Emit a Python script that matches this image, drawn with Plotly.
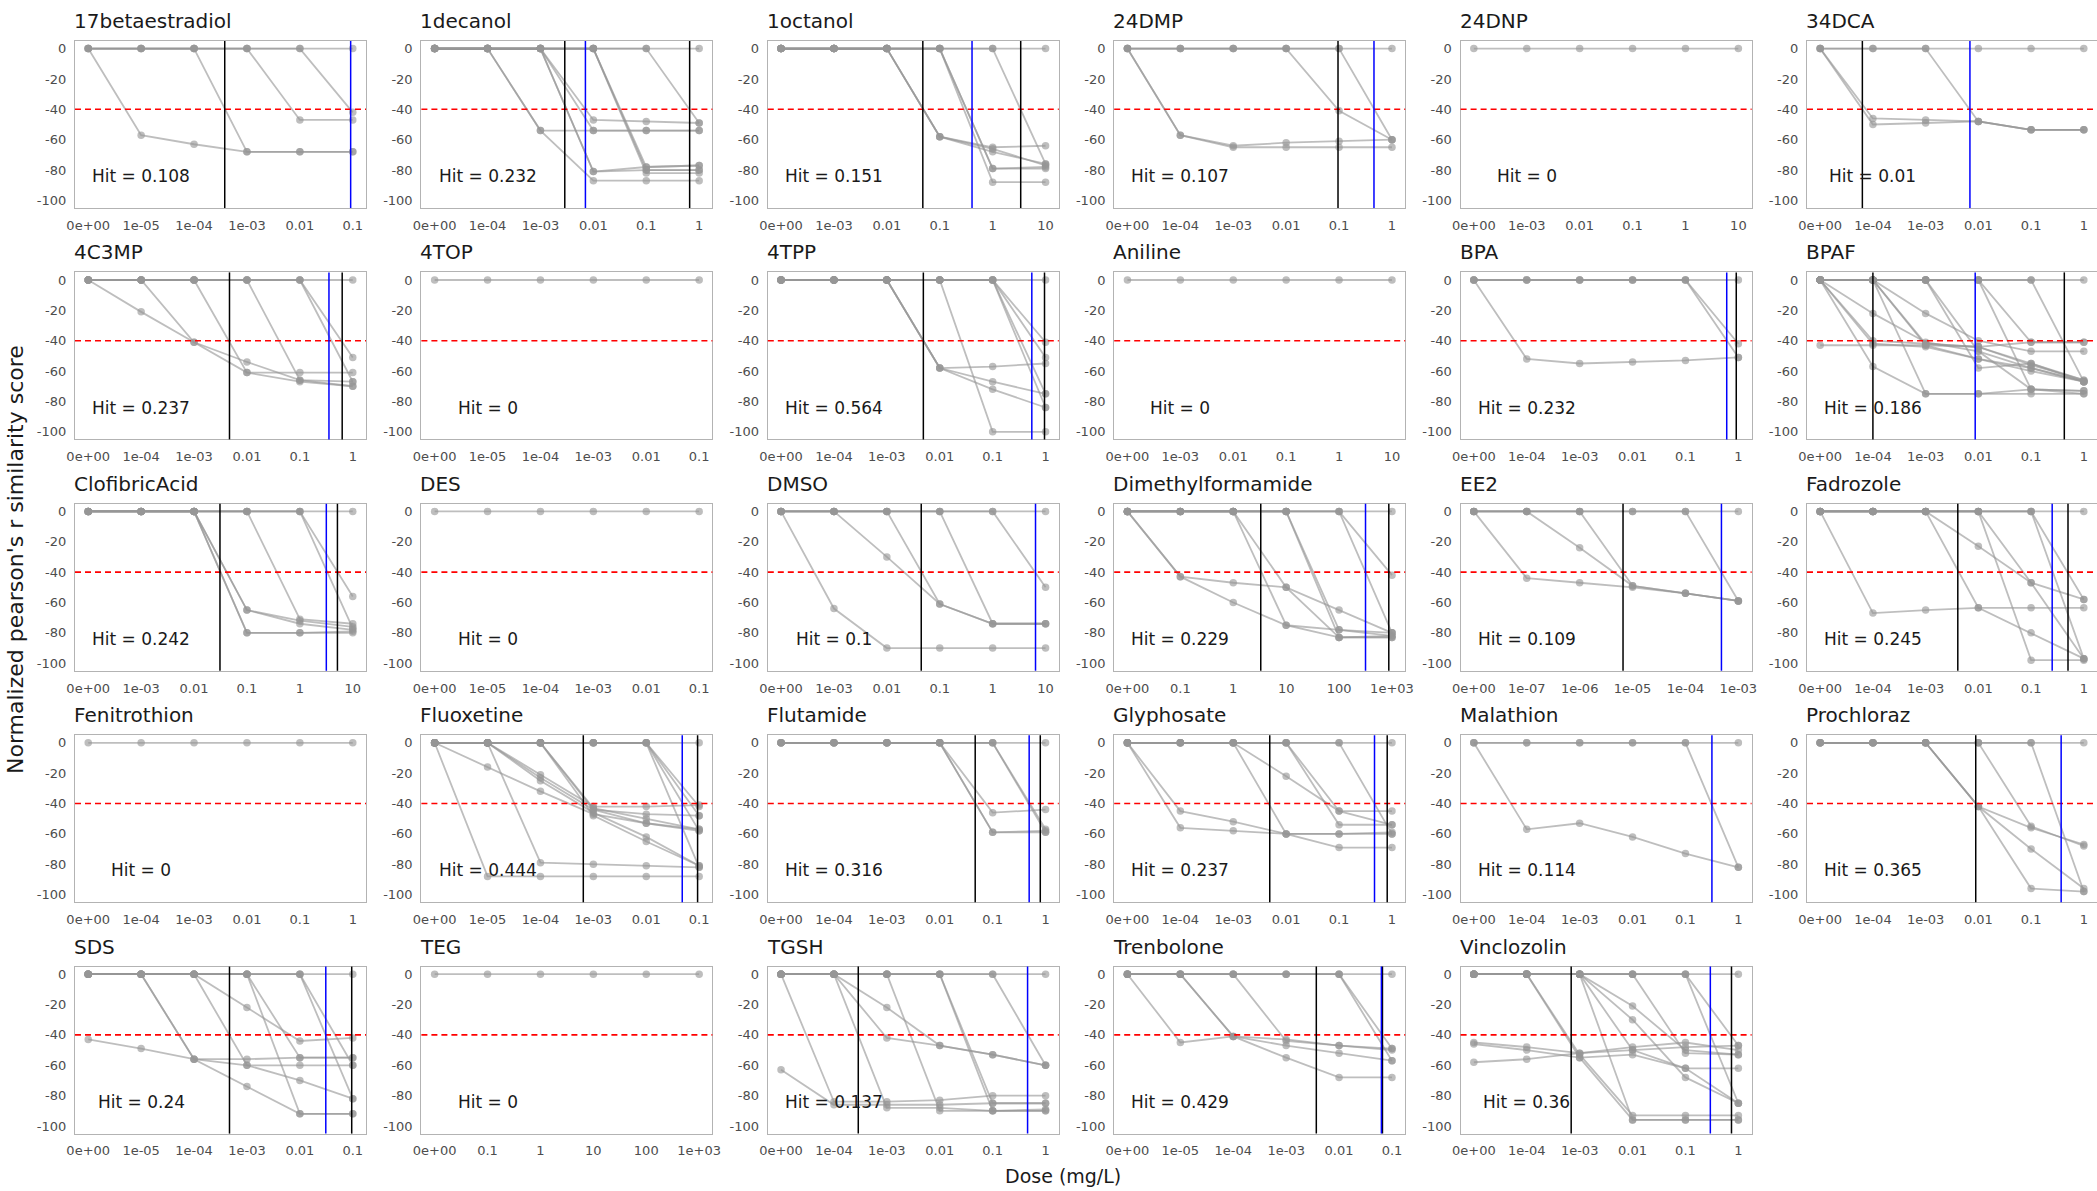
import plotly.graph_objects as go

# ---------------------------------------------------------------- data
chemicals = [
    "17betaestradiol", "1decanol", "1octanol", "24DMP", "24DNP", "34DCA",
    "4C3MP", "4TOP", "4TPP", "Aniline", "BPA", "BPAF",
    "ClofibricAcid", "DES", "DMSO", "Dimethylformamide", "EE2", "Fadrozole",
    "Fenitrothion", "Fluoxetine", "Flutamide", "Glyphosate", "Malathion", "Prochloraz",
    "SDS", "TEG", "TGSH", "Trenbolone", "Vinclozolin",
]

doses_e5 = ["0e+00", "1e-05", "1e-04", "1e-03", "0.01", "0.1"]
doses_e4 = ["0e+00", "1e-04", "1e-03", "0.01", "0.1", "1"]
doses_e3 = ["0e+00", "1e-03", "0.01", "0.1", "1", "10"]
doses_hi = ["0e+00", "0.1", "1", "10", "100", "1e+03"]
doses_e7 = ["0e+00", "1e-07", "1e-06", "1e-05", "1e-04", "1e-03"]

dose_labels = [
    doses_e5, doses_e4, doses_e3, doses_e4, doses_e3, doses_e4,
    doses_e4, doses_e5, doses_e4, doses_e3, doses_e4, doses_e4,
    doses_e3, doses_e5, doses_e3, doses_hi, doses_e7, doses_e4,
    doses_e4, doses_e5, doses_e4, doses_e4, doses_e4, doses_e4,
    doses_e5, doses_hi, doses_e4, doses_e5, doses_e4,
]

hit_values = [
    "0.108", "0.232", "0.151", "0.107", "0", "0.01",
    "0.237", "0", "0.564", "0", "0.232", "0.186",
    "0.242", "0", "0.1", "0.229", "0.109", "0.245",
    "0", "0.444", "0.316", "0.237", "0.114", "0.365",
    "0.24", "0", "0.137", "0.429", "0.36",
]

# dose-index positions of the reference lines (black) and the blue marker line
black_lines = [
    [2.58], [2.46, 4.82], [2.68, 4.53], [3.98], [], [0.80],
    [2.67, 4.80], [], [2.69, 4.98], [], [4.96], [1.0, 4.63],
    [2.49, 4.71], [], [2.65], [2.52, 4.94], [2.82], [2.61, 4.70],
    [], [2.81, 4.97], [3.67, 4.90], [2.69, 4.91], [], [2.95],
    [2.67, 4.98], [], [1.46], [3.57, 4.82], [1.84, 4.87],
]
blue_lines = [
    [4.96], [2.85], [3.61], [4.66], [], [2.84],
    [4.55], [], [4.74], [], [4.78], [2.94],
    [4.50], [], [4.81], [4.50], [4.68], [4.40],
    [], [4.68], [4.69], [4.67], [4.50], [4.57],
    [4.49], [], [4.66], [4.80], [4.47],
]

flat = [0, 0, 0, 0, 0, 0]

resp_17betaestradiol = [
    [0, -57, -63, -68, -68, -68],
    [0, 0, 0, -68, -68, -68],
    [0, 0, 0, 0, -47, -47],
    [0, 0, 0, 0, 0, -42],
    flat,
]
resp_1decanol = [
    [0, 0, -54, -54, -54, -54],
    [0, 0, -54, -87, -87, -87],
    [0, 0, 0, -47, -48, -49],
    [0, 0, 0, -54, -54, -54],
    [0, 0, 0, -81, -78, -77],
    [0, 0, 0, -81, -80, -80],
    [0, 0, 0, 0, -78, -77],
    [0, 0, 0, 0, -80, -80],
    [0, 0, 0, 0, -82, -82],
    [0, 0, 0, 0, 0, -49],
    flat,
]
resp_1octanol = [
    [0, 0, 0, -58, -65, -64],
    [0, 0, 0, -58, -68, -76],
    [0, 0, 0, -58, -66, -77],
    [0, 0, 0, 0, -79, -79],
    [0, 0, 0, 0, -88, -88],
    [0, 0, 0, 0, -79, -78],
    [0, 0, 0, 0, 0, -76],
    flat,
]
resp_24DMP = [
    [0, -57, -64, -62, -61, -60],
    [0, -57, -65, -65, -65, -65],
    [0, 0, 0, 0, -41, -60],
    [0, 0, 0, 0, 0, -60],
    flat,
]
resp_24DNP = [flat]
resp_34DCA = [
    [0, -46, -47, -48, -53.5, -53.5],
    [0, -50, -49, -48, -53.5, -53.5],
    [0, 0, 0, -48, -53.5, -53.5],
    flat,
]
resp_4C3MP = [
    [0, -21, -41, -54, -66, -70],
    [0, 0, -41, -61, -67, -70],
    [0, 0, 0, -61, -61, -61],
    [0, 0, 0, 0, -66, -67],
    [0, 0, 0, 0, 0, -51],
    [0, 0, 0, 0, 0, -67],
    flat,
]
resp_4TOP = [flat]
resp_4TPP = [
    [0, 0, 0, -58, -57, -55],
    [0, 0, 0, -58, -67, -75],
    [0, 0, 0, -58, -72, -84],
    [0, 0, 0, 0, -100, -100],
    [0, 0, 0, 0, 0, -41],
    [0, 0, 0, 0, 0, -51],
    [0, 0, 0, 0, 0, -75],
    [0, 0, 0, 0, 0, -84],
    flat,
]
resp_Aniline = [flat]
resp_BPA = [
    [0, -52, -55, -54, -53, -51],
    [0, 0, 0, 0, 0, -42],
    [0, 0, 0, 0, 0, -51],
    flat,
]
resp_BPAF = [
    [-43, -43, -43, -44, -41, -41],
    [0, -22, -41, -47, -58, -67],
    [0, -40, -42, -44, -55, -66],
    [0, -57, -75, -75, -75, -75],
    [0, 0, -22, -40, -47, -47],
    [0, 0, -75, -75, -72, -73],
    [0, 0, -43, -52, -58, -67],
    [0, 0, 0, -47, -72, -73],
    [0, 0, 0, -58, -55, -67],
    [0, 0, 0, 0, -72, -75],
    [0, 0, 0, 0, -41, -41],
    [0, 0, 0, 0, 0, -67],
    [0, 0, -42, -44, -56, -66],
    [0, -42, -44, -52, -60, -67],
    flat,
]
resp_ClofibricAcid = [
    [0, 0, 0, -65, -72, -76],
    [0, 0, 0, -65, -74, -78],
    [0, 0, 0, -80, -80, -80],
    [0, 0, 0, -80, -80, -79],
    [0, 0, 0, 0, -71, -74],
    [0, 0, 0, 0, 0, -56],
    [0, 0, 0, 0, 0, -77],
    flat,
]
resp_DES = [flat]
resp_DMSO = [
    [0, -64, -90, -90, -90, -90],
    [0, 0, -30, -61, -74, -74],
    [0, 0, 0, -61, -74, -74],
    [0, 0, 0, 0, -74, -74],
    [0, 0, 0, 0, 0, -50],
    flat,
]
resp_Dimethylformamide = [
    [0, -43, -47, -50, -65, -80],
    [0, -43, -60, -75, -78, -80],
    [0, 0, 0, -75, -83, -82],
    [0, 0, 0, -50, -83, -83],
    [0, 0, 0, 0, -78, -82],
    [0, 0, 0, 0, -83, -83],
    [0, 0, 0, 0, 0, -42],
    [0, 0, 0, 0, 0, -80],
    flat,
]
resp_EE2 = [
    [0, -44, -47, -50, -54, -59],
    [0, 0, -24, -49, -54, -59],
    [0, 0, 0, -49, -54, -59],
    [0, 0, 0, 0, 0, -59],
    flat,
]
resp_Fadrozole = [
    [0, -67, -65, -63.5, -63.5, -63.5],
    [0, 0, 0, -23, -47, -58],
    [0, 0, 0, -63.5, -80, -97],
    [0, 0, 0, 0, -98, -98],
    [0, 0, 0, 0, -47, -97],
    [0, 0, 0, 0, 0, -58],
    [0, 0, 0, 0, 0, -97],
    flat,
]
resp_Fenitrothion = [flat]
resp_Fluoxetine = [
    [0, -16, -32, -47, -53, -57],
    [0, 0, -21, -42, -42, -41],
    [0, 0, -23, -44, -47, -48],
    [0, 0, -25, -46, -62, -81],
    [0, 0, -79, -80, -81, -82],
    [0, -88, -88, -88, -88, -88],
    [0, 0, 0, -48, -65, -81],
    [0, 0, 0, -43, -50, -57],
    [0, 0, 0, -44, -53, -58],
    [0, 0, 0, 0, 0, -42],
    [0, 0, 0, 0, 0, -48],
    [0, 0, 0, 0, 0, -58],
    [0, 0, 0, 0, 0, -82],
    flat,
]
resp_Flutamide = [
    [0, 0, 0, 0, -46, -44],
    [0, 0, 0, 0, -59, -58],
    [0, 0, 0, 0, -59, -59],
    [0, 0, 0, 0, 0, -57],
    [0, 0, 0, 0, 0, -59],
    flat,
]
resp_Glyphosate = [
    [0, -45, -52, -60, -60, -60],
    [0, -56, -58, -60, -60, -59],
    [0, 0, 0, -22, -45, -54],
    [0, 0, 0, -60, -69, -69],
    [0, 0, 0, 0, -54, -54],
    [0, 0, 0, 0, -45, -45],
    [0, 0, 0, 0, 0, -60],
    flat,
]
resp_Malathion = [
    [0, -57, -53, -62, -73, -82],
    [0, 0, 0, 0, 0, -82],
    flat,
]
resp_Prochloraz = [
    [0, 0, 0, -42, -56, -67],
    [0, 0, 0, -42, -70, -96],
    [0, 0, 0, -42, -96, -98],
    [0, 0, 0, 0, -55, -68],
    [0, 0, 0, 0, 0, -98],
    flat,
]
resp_SDS = [
    [-43, -49, -56, -56, -55, -55],
    [0, 0, -56, -60, -60, -60],
    [0, 0, -56, -74, -92, -92],
    [0, 0, 0, -22, -44, -42],
    [0, 0, 0, -60, -70, -82],
    [0, 0, 0, 0, -55, -55],
    [0, 0, 0, 0, -92, -92],
    [0, 0, 0, 0, 0, -82],
    [0, 0, 0, 0, 0, -60],
    flat,
]
resp_TEG = [flat]
resp_TGSH = [
    [-63, -86, -86, -86, -85, -85],
    [0, -84, -84, -83, -80, -80],
    [0, 0, -22, -47, -53, -60],
    [0, 0, -42, -47, -53, -60],
    [0, 0, -88, -88, -90, -90],
    [0, 0, 0, -90, -90, -90],
    [0, 0, 0, 0, -85, -85],
    [0, 0, 0, 0, -90, -89],
    [0, 0, 0, 0, 0, -60],
    flat,
]
resp_Trenbolone = [
    [0, -45, -41, -43, -47, -49],
    [0, 0, -41, -47, -52, -57],
    [0, 0, -41, -55, -68, -68],
    [0, 0, 0, -44, -47, -50],
    [0, 0, 0, 0, 0, -49],
    [0, 0, 0, 0, 0, -57],
    flat,
]
resp_Vinclozolin = [
    [-45, -48, -52, -50, -48, -47],
    [-46, -50, -55, -53, -62, -62],
    [-58, -56, -52, -48, -45, -50],
    [0, 0, -53, -93, -93, -93],
    [0, 0, -55, -96, -96, -96],
    [0, 0, 0, -21, -50, -53],
    [0, 0, 0, -30, -68, -85],
    [0, 0, 0, -50, -62, -85],
    [0, 0, 0, -96, -96, -96],
    [0, 0, 0, 0, -52, -53],
    [0, 0, 0, 0, 0, -85],
    [0, 0, 0, 0, 0, -47],
    flat,
]

responses = [
    resp_17betaestradiol, resp_1decanol, resp_1octanol, resp_24DMP, resp_24DNP, resp_34DCA,
    resp_4C3MP, resp_4TOP, resp_4TPP, resp_Aniline, resp_BPA, resp_BPAF,
    resp_ClofibricAcid, resp_DES, resp_DMSO, resp_Dimethylformamide, resp_EE2, resp_Fadrozole,
    resp_Fenitrothion, resp_Fluoxetine, resp_Flutamide, resp_Glyphosate, resp_Malathion, resp_Prochloraz,
    resp_SDS, resp_TEG, resp_TGSH, resp_Trenbolone, resp_Vinclozolin,
]

threshold = -40
y_ticks = [0, -20, -40, -60, -80, -100]

# ---------------------------------------------------------------- layout
W, H = 2097, 1191
FONT = "DejaVu Sans"
PANEL_W, PANEL_H = 291, 167
COL_X0, COL_STEP = 75, 346.4
ROW_Y0, ROW_STEP = 41, 231.4
LINE_COL = "rgba(150,150,150,0.62)"
MARK_COL = "rgba(150,150,150,0.62)"

fig = go.Figure()
layout = {}
shapes = []
annotations = []

for i, chem in enumerate(chemicals):
    r, c = divmod(i, 6)
    n = i + 1
    suffix = "" if n == 1 else str(n)
    xa, ya = "x" + suffix, "y" + suffix

    for curve in responses[i]:
        fig.add_trace(go.Scatter(
            x=list(range(len(curve))), y=curve, mode="lines+markers",
            xaxis=xa, yaxis=ya,
            line=dict(color=LINE_COL, width=1.8),
            marker=dict(color=MARK_COL, size=7.5, line=dict(width=0)),
            showlegend=False, hoverinfo="skip",
        ))

    px0 = COL_X0 + COL_STEP * c
    py0 = ROW_Y0 + ROW_STEP * r
    layout["xaxis" + suffix] = dict(
        domain=[px0 / W, min((px0 + PANEL_W) / W, 1.0)],
        anchor=ya, range=[-0.25, 5.25], automargin=False,
        tickmode="array", tickvals=list(range(6)), ticktext=dose_labels[i],
        showgrid=False, zeroline=False, showline=True, mirror=True,
        linecolor="#b3b3b3", linewidth=1.3, ticks="",
        ticklabelstandoff=5,
        tickfont=dict(family=FONT, size=13, color="#4d4d4d"),
        fixedrange=True,
    )
    layout["yaxis" + suffix] = dict(
        domain=[1 - (py0 + PANEL_H) / H, 1 - py0 / H],
        anchor=xa, range=[-105, 5], automargin=False,
        tickmode="array", tickvals=y_ticks, ticktext=[str(v) for v in y_ticks],
        showgrid=False, zeroline=False, showline=True, mirror=True,
        linecolor="#b3b3b3", linewidth=1.3, ticks="",
        ticklabelstandoff=5,
        tickfont=dict(family=FONT, size=13, color="#4d4d4d"),
        fixedrange=True,
    )

    # significance threshold
    shapes.append(dict(type="line", xref=xa + " domain", yref=ya,
                       x0=0, x1=1, y0=threshold, y1=threshold,
                       line=dict(color="red", width=1.6, dash="6px,4px"), layer="above"))
    for xv in black_lines[i]:
        shapes.append(dict(type="line", xref=xa, yref=ya + " domain",
                           x0=xv, x1=xv, y0=0, y1=1,
                           line=dict(color="black", width=1.5), layer="above"))
    for xv in blue_lines[i]:
        shapes.append(dict(type="line", xref=xa, yref=ya + " domain",
                           x0=xv, x1=xv, y0=0, y1=1,
                           line=dict(color="blue", width=1.5), layer="above"))

    annotations.append(dict(
        text=chem, xref="paper", yref="paper",
        x=(px0 - 3) / W, y=1 - (py0 - 20) / H, xanchor="left", yanchor="middle",
        showarrow=False, font=dict(family=FONT, size=20, color="#1a1a1a"),
    ))
    annotations.append(dict(
        text="Hit = " + hit_values[i], xref=xa, yref=ya,
        x=1, y=-84, xanchor="center", yanchor="middle",
        showarrow=False, font=dict(family=FONT, size=17, color="#1a1a1a"),
    ))

annotations.append(dict(
    text="Dose (mg/L)", xref="paper", yref="paper",
    x=1063 / W, y=1 - 1176 / H, xanchor="center", yanchor="middle",
    showarrow=False, font=dict(family=FONT, size=19, color="#1a1a1a"),
))
annotations.append(dict(
    text="Normalized pearson's r similarity score", xref="paper", yref="paper",
    x=16 / W, y=1 - 560 / H, xanchor="center", yanchor="middle", textangle=-90,
    showarrow=False, font=dict(family=FONT, size=22, color="#1a1a1a"),
))

fig.update_layout(
    width=W, height=H,
    margin=dict(l=0, r=0, t=0, b=0, pad=0, autoexpand=False),
    paper_bgcolor="white", plot_bgcolor="white",
    shapes=shapes, annotations=annotations,
    font=dict(family=FONT),
    **layout,
)

# page body without default spacing so the figure sits at the window origin
fig.write_html(
    "out.html",
    post_script="document.body.style.margin='0';document.body.style.overflow='hidden';",
)
